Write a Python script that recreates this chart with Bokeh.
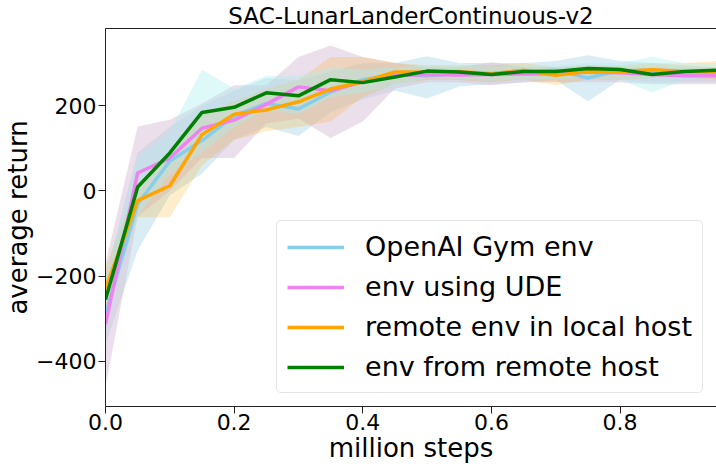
from bokeh.plotting import figure
from bokeh.models import (Range1d, FixedTicker, LinearAxis, Legend, LegendItem,
                          ColumnDataSource)
from bokeh.embed import file_html
from bokeh.resources import INLINE

# ---------------- data ----------------
steps = [0.0, 0.05, 0.1, 0.15, 0.2, 0.25, 0.3, 0.35, 0.4, 0.45,
         0.5, 0.55, 0.6, 0.65, 0.7, 0.75, 0.8, 0.85, 0.9, 0.95]

series_names = ["OpenAI Gym env", "env using UDE",
                "remote env in local host", "env from remote host"]

gym_mean = [-290, -31, 70, 118, 176, 205, 192, 232, 261, 273,
            270, 275, 275, 279, 283, 265, 283, 277, 275, 271]
gym_low = [-360, -140, -10, 40, 120, 150, 129, 185, 215, 235,
           217, 245, 250, 255, 260, 210, 260, 255, 255, 255]
gym_high = [-200, 90, 150, 200, 235, 265, 260, 280, 300, 300,
            316, 300, 300, 300, 305, 318, 305, 300, 295, 290]

ude_mean = [-313, 42, 77, 147, 166, 203, 244, 235, 256, 270,
            273, 272, 273, 274, 275, 279, 277, 273, 270, 270]
ude_low = [-460, -60, 0, 77, 77, 158, 170, 124, 163, 240,
           255, 255, 248, 255, 255, 255, 255, 250, 250, 250]
ude_high = [-170, 151, 167, 205, 248, 248, 314, 341, 314, 300,
            290, 290, 302, 290, 290, 295, 290, 290, 288, 288]

local_mean = [-229, -23, 12, 132, 180, 190, 209, 239, 256, 279,
              279, 280, 275, 283, 271, 280, 280, 284, 280, 279]
local_low = [-280, -62, -62, 60, 120, 140, 150, 163, 220, 250,
             260, 260, 255, 262, 248, 262, 260, 265, 265, 262]
local_high = [-180, 20, 80, 180, 210, 240, 260, 314, 314, 300,
              295, 295, 295, 300, 290, 295, 295, 300, 300, 305]

remote_mean = [-255, 9, 89, 184, 196, 230, 223, 261, 254, 267,
               281, 279, 273, 280, 280, 287, 285, 273, 280, 283]
remote_low = [-300, -60, 40, 90, 150, 190, 180, 220, 230, 245,
              265, 262, 258, 262, 262, 265, 260, 231, 260, 265]
remote_high = [-200, 80, 140, 284, 240, 270, 270, 290, 285, 290,
               295, 295, 292, 295, 295, 300, 300, 315, 300, 300]

x_ticks = [0.0, 0.2, 0.4, 0.6, 0.8]
x_tick_labels = ["0.0", "0.2", "0.4", "0.6", "0.8"]
y_ticks = [-400, -200, 0, 200]
y_tick_labels = ["\u2212400", "\u2212200", "0", "200"]

title_text = "SAC-LunarLanderContinuous-v2"
x_label_text = "million steps"
y_label_text = "average return"

line_colors = ["#87CEEB", "#EE82EE", "#FFA500", "#008000"]
band_colors = ["#ADD8E6", "#D8BFD8", "#FFA500", "#AFEEEE"]
band_alphas = [0.45, 0.5, 0.2, 0.4]

FONT = "DejaVu Sans"

p = figure(width=716, height=466, output_backend="svg", toolbar_location=None,
           x_range=Range1d(0, 0.95), y_range=Range1d(-506, 381),
           min_border_right=0, min_border_left=103, min_border_top=24,
           min_border_bottom=60)
p.background_fill_color = "white"
p.border_fill_color = "white"
p.outline_line_color = None
p.xgrid.visible = False
p.ygrid.visible = False

p.title.text = title_text
p.title.text_font = FONT
p.title.text_font_size = "23px"
p.title.text_font_style = "normal"
p.title.text_color = "black"
p.title.align = "center"
p.title.standoff = 0
p.title.offset = 0
p.title.text_line_height = 0.85

for ax in (p.xaxis[0], p.yaxis[0]):
    ax.axis_line_color = "#222222"
    ax.major_tick_line_color = "#222222"
    ax.major_tick_out = 7
    ax.major_tick_in = 0
    ax.minor_tick_line_color = None
    ax.major_label_text_font = FONT
    ax.major_label_text_font_size = "22px"
    ax.major_label_text_color = "black"
    ax.axis_label_text_font = FONT
    ax.axis_label_text_font_size = "26px"
    ax.axis_label_text_font_style = "normal"
    ax.axis_label_text_color = "black"

p.xaxis[0].ticker = FixedTicker(ticks=x_ticks)
p.xaxis[0].major_label_overrides = dict(zip(x_ticks, x_tick_labels))
p.xaxis[0].axis_label = x_label_text
p.xaxis[0].major_label_standoff = 0
p.xaxis[0].axis_label_standoff = 0
p.yaxis[0].ticker = FixedTicker(ticks=y_ticks)
p.yaxis[0].major_label_overrides = dict(zip(y_ticks, y_tick_labels))
p.yaxis[0].axis_label = y_label_text
p.yaxis[0].major_label_standoff = 2
p.yaxis[0].axis_label_standoff = 0

top_axis = LinearAxis(ticker=FixedTicker(ticks=[]), axis_line_color="#222222",
                      major_label_text_font_size="0px", major_tick_line_color=None,
                      minor_tick_line_color=None, major_tick_out=0,
                      major_tick_in=0, major_label_standoff=0)
p.add_layout(top_axis, "above")

means = [gym_mean, ude_mean, local_mean, remote_mean]
lows = [gym_low, ude_low, local_low, remote_low]
highs = [gym_high, ude_high, local_high, remote_high]

for i in range(4):
    src = ColumnDataSource(dict(x=steps, lo=lows[i], hi=highs[i]))
    p.varea(x="x", y1="lo", y2="hi", source=src, fill_color=band_colors[i],
            fill_alpha=band_alphas[i])

items = []
for i in range(4):
    src = ColumnDataSource(dict(x=steps, y=means[i]))
    r = p.line(x="x", y="y", source=src, line_color=line_colors[i], line_width=3.5)
    items.append(LegendItem(label=series_names[i], renderers=[r]))

legend = Legend(items=items, location="bottom_right")
legend.label_text_font = FONT
legend.label_text_font_size = "27px"
legend.label_text_color = "black"
legend.glyph_width = 57
legend.glyph_height = 20
legend.label_standoff = 21
legend.spacing = 9
legend.padding = 10
legend.margin = 13
legend.border_line_color = "#cccccc"
legend.border_line_width = 1
legend.border_radius = 5
legend.background_fill_alpha = 0.8
p.add_layout(legend)

open("out.html", "w").write(file_html(p, INLINE))
